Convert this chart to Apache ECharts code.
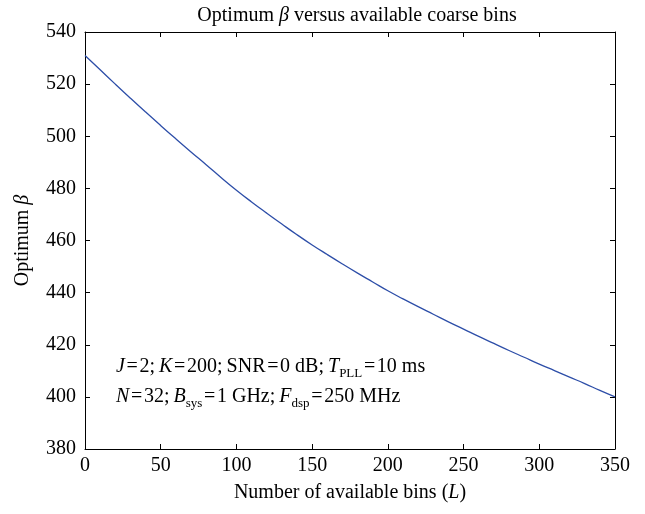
<!DOCTYPE html>
<html>
<head>
<meta charset="utf-8">
<style>
  html, body { margin: 0; padding: 0; background: #fff; }
  #chart { width: 645px; height: 514px; }
</style>
<script src="https://cdn.jsdelivr.net/npm/echarts@6/dist/echarts.min.js"></script>
</head>
<body>
<div id="chart"></div>
<script>
// Number of available coarse bins L
const binsL = [0, 10, 20, 30, 40, 50, 60, 70, 80, 90, 100, 110, 120, 130, 140, 150, 160, 170,
  180, 190, 200, 210, 220, 230, 240, 250, 260, 270, 280, 290, 300, 310, 320, 330, 340, 350];
// Optimum beta for each L
const optimumBeta = [531.0, 525.5, 520.0, 514.6, 509.3, 504.1, 499.0, 494.0, 489.1, 484.1, 479.3,
  474.8, 470.5, 466.3, 462.2, 458.3, 454.6, 451.0, 447.5, 444.1, 440.7, 437.6, 434.6, 431.7,
  428.8, 426.0, 423.2, 420.5, 417.8, 415.2, 412.6, 410.1, 407.6, 405.1, 402.5, 400.0];
const xTicks = { min: 0, max: 350, step: 50 };
const yTicks = { min: 380, max: 540, step: 20 };

const SERIF = '"Liberation Serif", "DejaVu Serif", serif';
const FS = 20;

const chart = echarts.init(document.getElementById('chart'), null, { renderer: 'canvas' });

const frameAxis = {
  axisLine: { show: true, onZero: false, lineStyle: { color: '#000', width: 1 } },
  axisTick: { show: true, inside: true, length: 5, lineStyle: { color: '#000' } },
  splitLine: { show: false }
};

// rich styles shared by the two parameter lines
const paramRich = {
  n: { fontFamily: SERIF, fontSize: FS, fill: '#000', lineHeight: 22, verticalAlign: 'bottom' },
  i: { fontFamily: SERIF, fontSize: FS, fontStyle: 'italic', fill: '#000', lineHeight: 22, verticalAlign: 'bottom' },
  s: { fontFamily: SERIF, fontSize: 13, fill: '#000', lineHeight: 13, verticalAlign: 'bottom', padding: [0, 0, -3, 0] }
};
const EQ = '\u200A=\u200A';
const SEP = ';\u2009';

const option = {
  backgroundColor: '#fff',
  animation: false,
  title: {
    text: 'Optimum {i|β} versus available coarse bins',
    left: 352, top: 1, textAlign: 'center',
    textStyle: {
      fontFamily: SERIF, fontSize: FS, fontWeight: 'normal', color: '#000',
      rich: { i: { fontFamily: SERIF, fontSize: FS, fontStyle: 'italic', color: '#000' } }
    }
  },
  grid: { left: 85, right: 30, top: 32, bottom: 65 },
  xAxis: [
    Object.assign({
      type: 'value', position: 'bottom',
      min: xTicks.min, max: xTicks.max, interval: xTicks.step,
      name: 'Number of available bins ({i|L})',
      nameLocation: 'middle', nameGap: 34,
      nameTextStyle: {
        fontFamily: SERIF, fontSize: FS, color: '#000',
        rich: { i: { fontFamily: SERIF, fontSize: FS, fontStyle: 'italic', color: '#000' } }
      },
      axisLabel: { show: true, margin: 7, color: '#000', fontFamily: SERIF, fontSize: FS }
    }, frameAxis),
    Object.assign({
      type: 'value', position: 'top',
      min: xTicks.min, max: xTicks.max, interval: xTicks.step,
      axisLabel: { show: false }
    }, frameAxis)
  ],
  yAxis: [
    Object.assign({
      type: 'value', position: 'left',
      min: yTicks.min, max: yTicks.max, interval: yTicks.step,
      name: 'Optimum {i|β}',
      nameLocation: 'middle', nameGap: 52, nameRotate: 90,
      nameTextStyle: {
        fontFamily: SERIF, fontSize: FS, color: '#000',
        rich: { i: { fontFamily: SERIF, fontSize: FS, fontStyle: 'italic', color: '#000' } }
      },
      axisLabel: { show: true, margin: 9, color: '#000', fontFamily: SERIF, fontSize: FS }
    }, frameAxis),
    Object.assign({
      type: 'value', position: 'right',
      min: yTicks.min, max: yTicks.max, interval: yTicks.step,
      axisLabel: { show: false }
    }, frameAxis)
  ],
  series: [{
    type: 'line',
    data: binsL.map((l, i) => [l, optimumBeta[i]]),
    smooth: true,
    showSymbol: false,
    lineStyle: { color: '#2d4ea8', width: 1.3 },
    z: 3
  }],
  graphic: [
    {
      type: 'text', left: 116, top: 357,
      style: {
        text: '{i|J}{n|' + EQ + '2' + SEP + '}{i|K}{n|' + EQ + '200' + SEP + 'SNR' + EQ + '0 dB' + SEP +
          '}{i|T}{s|PLL}{n|' + EQ + '10 ms}',
        rich: paramRich
      }
    },
    {
      type: 'text', left: 116, top: 387,
      style: {
        text: '{i|N}{n|' + EQ + '32' + SEP + '}{i|B}{s|sys}{n|' + EQ + '1 GHz' + SEP +
          '}{i|F}{s|dsp}{n|' + EQ + '250 MHz}',
        rich: paramRich
      }
    }
  ]
};

chart.setOption(option);
</script>
</body>
</html>
